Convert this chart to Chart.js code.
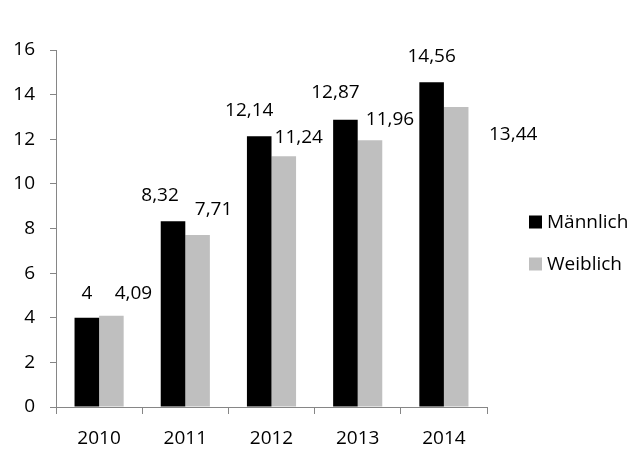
<!DOCTYPE html>
<html>
<head>
<meta charset="utf-8">
<script src="https://cdn.jsdelivr.net/npm/chart.js@4.4.0/dist/chart.umd.min.js"></script>
<style>
    html, body { margin: 0; padding: 0; background: #fff; }
    #wrap { width: 638px; height: 454px; }
</style>
</head>
<body>
<div id="wrap"><canvas id="chart" width="638" height="454"></canvas></div>
<script>
const years = ['2010', '2011', '2012', '2013', '2014'];
const maleValues = [4, 8.32, 12.14, 12.87, 14.56];
const femaleValues = [4.09, 7.71, 11.24, 11.96, 13.44];
const yTicks = [0, 2, 4, 6, 8, 10, 12, 14, 16];

// label nudges (dx, dy) from the top centre of each bar, as placed in the original
const maleLabelOffset = [[0, -24], [-13, -26], [-10, -26], [-10, -27], [0, -26]];
const femaleLabelOffset = [[22, -22], [16, -25], [15, -19], [20, -21], [57, 27]];

const FONT = '"Open Sans", "Noto Sans", sans-serif';
const AXIS_GREY = '#868686';

function formatDe(v) {
    return String(v).replace('.', ',');
}

// value labels above the bars
const valueLabels = {
    id: 'valueLabels',
    afterDatasetsDraw(chart) {
        const ctx = chart.ctx;
        const offsets = [maleLabelOffset, femaleLabelOffset];
        ctx.save();
        ctx.font = '19px ' + FONT;
        ctx.fillStyle = '#000';
        ctx.textAlign = 'center';
        ctx.textBaseline = 'middle';
        chart.data.datasets.forEach((ds, di) => {
            chart.getDatasetMeta(di).data.forEach((bar, i) => {
                const [dx, dy] = offsets[di][i];
                ctx.fillText(formatDe(ds.data[i]), bar.x + dx, bar.y + dy);
            });
        });
        ctx.restore();
    }
};

// legend on the right, drawn like the spreadsheet one
const sideLegend = {
    id: 'sideLegend',
    afterDraw(chart) {
        const ctx = chart.ctx;
        ctx.save();
        ctx.font = '19px ' + FONT;
        ctx.textBaseline = 'middle';
        ctx.textAlign = 'left';
        chart.data.datasets.forEach((ds, i) => {
            const cy = 222 + i * 42;
            ctx.fillStyle = ds.backgroundColor;
            ctx.fillRect(529, cy - 6.5, 13, 13);
            ctx.fillStyle = '#000';
            ctx.fillText(ds.label, 547, cy + 1);
        });
        ctx.restore();
    }
};

new Chart(document.getElementById('chart'), {
    type: 'bar',
    data: {
        labels: years,
        datasets: [
            {
                label: 'Männlich',
                data: maleValues,
                backgroundColor: '#000000',
                categoryPercentage: 0.57,
                barPercentage: 1.0
            },
            {
                label: 'Weiblich',
                data: femaleValues,
                backgroundColor: '#bfbfbf',
                categoryPercentage: 0.57,
                barPercentage: 1.0
            }
        ]
    },
    options: {
        responsive: false,
        animation: false,
        devicePixelRatio: 1,
        layout: {
            padding: { left: 0, top: 50, right: 151, bottom: 0 }
        },
        plugins: {
            legend: { display: false },
            tooltip: { enabled: false }
        },
        scales: {
            x: {
                afterFit(scale) {
                    scale.height = 47;
                },
                grid: {
                    offset: true,
                    drawOnChartArea: false,
                    drawTicks: true,
                    tickLength: 7,
                    color: AXIS_GREY
                },
                border: { color: AXIS_GREY, width: 1 },
                ticks: {
                    color: '#000',
                    padding: 13,
                    font: { family: FONT, size: 19 }
                }
            },
            y: {
                min: 0,
                max: 16,
                afterFit(scale) {
                    scale.width = 56;
                },
                afterBuildTicks(scale) {
                    scale.ticks = yTicks.map(v => ({ value: v }));
                },
                grid: {
                    drawOnChartArea: false,
                    drawTicks: true,
                    tickLength: 6,
                    color: AXIS_GREY
                },
                border: { color: AXIS_GREY, width: 1 },
                ticks: {
                    color: '#000',
                    padding: 15,
                    font: { family: FONT, size: 19 }
                }
            }
        }
    },
    plugins: [valueLabels, sideLegend]
});
</script>
</body>
</html>
